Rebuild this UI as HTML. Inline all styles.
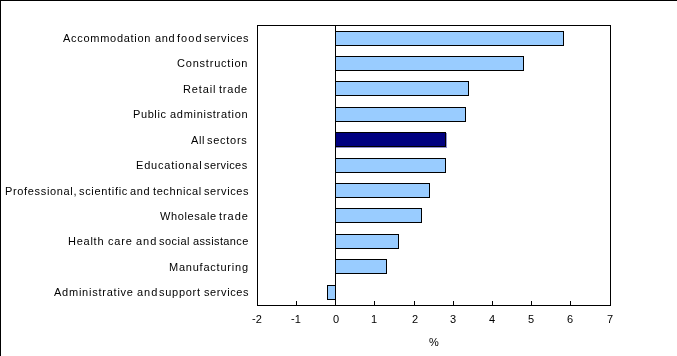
<!DOCTYPE html>
<html><head><meta charset="utf-8"><style>
html,body{margin:0;padding:0;background:#fff;}
body{width:677px;height:356px;position:relative;overflow:hidden;font-family:"Liberation Sans",sans-serif;color:#000;}
#frame{position:absolute;left:0;top:0;width:677px;height:356px;box-sizing:border-box;border-top:1px solid #000;border-left:1px solid #000;}
svg{position:absolute;left:0;top:0;}
.lab{position:absolute;left:0;width:260px;height:14px;line-height:14px;font-size:11.0px;white-space:nowrap;}
.lab span{position:absolute;top:0;}
.lab,.tick{will-change:transform;}
.tick{position:absolute;line-height:14px;font-size:11.0px;white-space:nowrap;}
</style></head><body>
<div id="frame"></div>
<svg width="677" height="356" shape-rendering="crispEdges"><rect x="257.5" y="25.5" width="353" height="280" fill="#fff" stroke="#000" stroke-width="1"/><rect x="335.5" y="31.5" width="228" height="14" fill="#99ccff" stroke="#000" stroke-width="1"/><rect x="335.5" y="56.5" width="188" height="14" fill="#99ccff" stroke="#000" stroke-width="1"/><rect x="335.5" y="81.5" width="133" height="14" fill="#99ccff" stroke="#000" stroke-width="1"/><rect x="335.5" y="107.5" width="130" height="14" fill="#99ccff" stroke="#000" stroke-width="1"/><rect x="335.5" y="132.5" width="110" height="14" fill="#000080" stroke="#000" stroke-width="1"/><rect x="335.5" y="158.5" width="110" height="14" fill="#99ccff" stroke="#000" stroke-width="1"/><rect x="335.5" y="183.5" width="94" height="14" fill="#99ccff" stroke="#000" stroke-width="1"/><rect x="335.5" y="208.5" width="86" height="14" fill="#99ccff" stroke="#000" stroke-width="1"/><rect x="335.5" y="234.5" width="63" height="14" fill="#99ccff" stroke="#000" stroke-width="1"/><rect x="335.5" y="259.5" width="51" height="14" fill="#99ccff" stroke="#000" stroke-width="1"/><rect x="327.5" y="285.5" width="8" height="14" fill="#99ccff" stroke="#000" stroke-width="1"/><line x1="335.5" y1="25" x2="335.5" y2="306" stroke="#000" stroke-width="1"/><rect x="336" y="147" width="111" height="1" fill="#8f8fd2"/><rect x="446" y="133" width="1" height="14" fill="#8f8fd2"/><rect x="296" y="301" width="1" height="4" fill="#000"/><rect x="374" y="301" width="1" height="4" fill="#000"/><rect x="414" y="301" width="1" height="4" fill="#000"/><rect x="453" y="301" width="1" height="4" fill="#000"/><rect x="492" y="301" width="1" height="4" fill="#000"/><rect x="531" y="301" width="1" height="4" fill="#000"/><rect x="570" y="301" width="1" height="4" fill="#000"/></svg>
<div class="lab" style="top:31.00px"><span style="left:63.00px;letter-spacing:0.717px">Accommodation</span><span style="left:155.00px;letter-spacing:0.6px">and</span><span style="left:177.00px;letter-spacing:1.067px">food</span><span style="left:204.00px;letter-spacing:0.6px">services</span></div><div class="lab" style="top:56.00px"><span style="left:177.00px;letter-spacing:0.791px">Construction</span></div><div class="lab" style="top:82.00px"><span style="left:183.00px;letter-spacing:0.88px">Retail</span><span style="left:219.00px;letter-spacing:0.775px">trade</span></div><div class="lab" style="top:107.00px"><span style="left:133.00px;letter-spacing:0.6px">Public</span><span style="left:170.00px;letter-spacing:0.708px">administration</span></div><div class="lab" style="top:133.00px"><span style="left:191.00px;letter-spacing:0.6px">All</span><span style="left:207.00px;letter-spacing:0.717px">sectors</span></div><div class="lab" style="top:158.00px"><span style="left:136.00px;letter-spacing:0.81px">Educational</span><span style="left:204.00px;letter-spacing:0.4px">services</span></div><div class="lab" style="top:184.00px"><span style="left:5.00px;letter-spacing:0.658px">Professional,</span><span style="left:79.00px;letter-spacing:0.678px">scientific</span><span style="left:130.00px;letter-spacing:0.6px">and</span><span style="left:153.00px;letter-spacing:0.6px">technical</span><span style="left:204.00px;letter-spacing:0.6px">services</span></div><div class="lab" style="top:209.00px"><span style="left:160.00px;letter-spacing:0.6px">Wholesale</span><span style="left:219.00px;letter-spacing:0.95px">trade</span></div><div class="lab" style="top:234.00px"><span style="left:68.00px;letter-spacing:0.74px">Health</span><span style="left:108.00px;letter-spacing:0.833px">care</span><span style="left:136.00px;letter-spacing:0.95px">and</span><span style="left:159.00px;letter-spacing:0.46px">social</span><span style="left:193.00px;letter-spacing:0.367px">assistance</span></div><div class="lab" style="top:260.00px"><span style="left:169.00px;letter-spacing:0.775px">Manufacturing</span></div><div class="lab" style="top:285.00px"><span style="left:54.00px;letter-spacing:0.762px">Administrative</span><span style="left:137.00px;letter-spacing:0.95px">and</span><span style="left:159.00px;letter-spacing:0.717px">support</span><span style="left:204.00px;letter-spacing:0.6px">services</span></div><div class="tick" style="left:252.00px;top:312.00px"><span style="position:relative;top:-1px">-</span>2</div><div class="tick" style="left:291.00px;top:312.00px"><span style="position:relative;top:-1px">-</span>1</div><div class="tick" style="left:332.50px;top:312.00px">0</div><div class="tick" style="left:371.00px;top:312.00px">1</div><div class="tick" style="left:411.50px;top:312.00px">2</div><div class="tick" style="left:450.00px;top:312.00px">3</div><div class="tick" style="left:489.00px;top:312.00px">4</div><div class="tick" style="left:528.00px;top:312.00px">5</div><div class="tick" style="left:567.00px;top:312.00px">6</div><div class="tick" style="left:607.00px;top:312.00px">7</div><div class="tick" style="left:429.00px;top:335.00px">%</div>
</body></html>
